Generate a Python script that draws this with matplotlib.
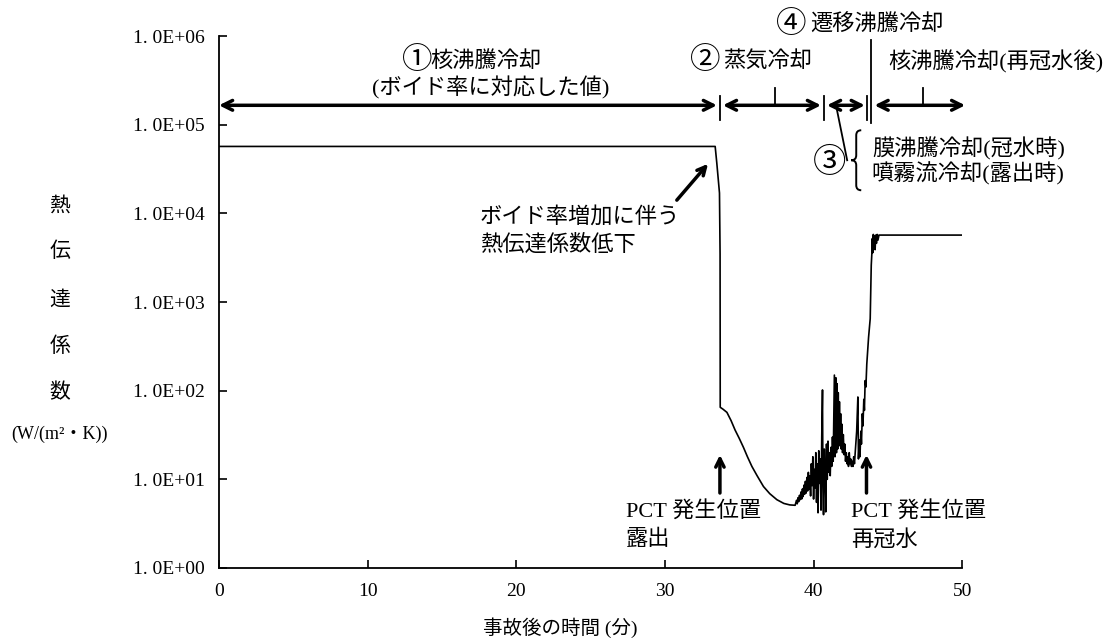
import matplotlib.pyplot as plt
from matplotlib.path import Path
from matplotlib.patches import PathPatch
from matplotlib.ticker import NullLocator
import matplotlib.transforms as mtransforms

plt.rcParams['font.family'] = ['Liberation Serif', 'Noto Sans CJK JP', 'DejaVu Sans']

# 事故後の時間 (分)
time_min = [0, 33.38, 33.49, 33.67, 33.71, 33.72, 33.9, 34.17, 34.45, 34.72, 35.0, 35.28, 35.55, 35.85,
            36.2, 36.63, 37.05, 37.53, 38.0, 38.4, 38.76,
            38.85, 38.9, 38.95, 39.0, 39.05, 39.1, 39.15, 39.2, 39.25, 39.3, 39.35, 39.4, 39.45, 39.5,
            39.55, 39.6, 39.65, 39.7, 39.75, 39.8, 39.85, 39.9, 39.95, 40.0, 40.05, 40.1, 40.15, 40.2,
            40.25, 40.3, 40.35, 40.4, 40.45, 40.5, 40.55, 40.6, 40.63, 40.67, 40.72, 40.78, 40.82, 40.87,
            40.92, 40.97, 41.02, 41.07, 41.12, 41.17, 41.22, 41.27, 41.32, 41.4, 41.44, 41.5, 41.54, 41.58,
            41.62, 41.66, 41.7, 41.74, 41.78, 41.82, 41.86, 41.9, 41.95, 42.0, 42.05, 42.1, 42.15, 42.2,
            42.25, 42.3, 42.35, 42.4, 42.45, 42.5, 42.55, 42.6, 42.65, 42.7, 42.75, 42.82, 42.9, 42.98,
            43.02, 43.08, 43.12, 43.18, 43.22, 43.28, 43.32, 43.38, 43.42, 43.47, 43.52, 43.58, 43.64, 43.7,
            43.76, 43.81, 43.85, 43.88, 43.92, 43.95, 43.98, 44.02, 44.06, 44.1, 44.14, 44.18, 44.23, 44.28,
            44.33, 44.4, 50]

# 熱伝達係数 (W/(m2・K))
htc = [5.7e4, 5.7e4, 3.7e4, 1.7e4, 3.5e3, 65, 62, 57, 46, 36, 29, 23, 18, 14,
       11, 8.3, 6.9, 5.9, 5.35, 5.15, 5.1,
       5.8, 5.3, 6.2, 5.6, 6.6, 5.9, 7.2, 6.0, 7.8, 6.4, 8.6, 6.8, 9.5, 7.0,
       10.5, 7.4, 12, 7.8, 11, 6.5, 15, 8.5, 18, 6.0, 13, 8.0, 20, 5.5,
       15, 4.2, 21, 9.0, 17, 4.5, 30, 102, 8, 4.0, 22, 12, 4.3, 25,
       10, 27, 12, 20, 11, 23, 14, 30, 16, 150, 18, 140, 20, 120,
       22, 95, 24, 75, 24, 55, 22, 42, 20, 32, 19, 25, 16, 20,
       15, 18, 14, 20, 15, 17, 14, 16, 14, 18, 15, 22, 35, 85,
       17, 28, 18, 35, 25, 55, 40, 80, 60, 130, 110, 200, 280, 400,
       520, 650, 1500, 2600, 3500, 5200, 3600, 5800, 4200, 5600, 3900, 5700, 4600, 5800,
       5000, 5700, 5700]

ytick_vals = [1e0, 1e1, 1e2, 1e3, 1e4, 1e5, 1e6]
ytick_labels = ['1. 0E+00', '1. 0E+01', '1. 0E+02', '1. 0E+03', '1. 0E+04', '1. 0E+05', '1. 0E+06']
xtick_vals = [0, 10, 20, 30, 40, 50]
ylabel_chars = ['熱', '伝', '達', '係', '数', '(W/(m²・K))']

fig = plt.figure(figsize=(11.06, 6.4), dpi=100)
ax = fig.add_axes([0.198, 0.1125, 0.672, 0.831])
ax.plot(time_min, htc, color='black', lw=1.2)
ax.set_yscale('log')
ax.set_xlim(0, 50)
ax.set_ylim(1, 1e6)
ax.set_yticks(ytick_vals)
ax.set_yticklabels(ytick_labels)
ax.yaxis.set_minor_locator(NullLocator())
ax.set_xticks(xtick_vals)
ax.tick_params(direction='in', length=6, width=1.2, labelsize=14)
ax.tick_params(axis='y', pad=10)
ax.tick_params(axis='x', pad=11)
for s in ['top', 'right']:
    ax.spines[s].set_visible(False)
for s in ['left', 'bottom']:
    ax.spines[s].set_linewidth(1.3)

# y label, stacked characters
ylabel_y = [207, 252, 301, 347, 393, 434]
for ch, py in zip(ylabel_chars, ylabel_y):
    fig.text(60 / 1106, 1 - py / 640, ch, ha='center', va='center',
             fontsize=13 if len(ch) > 1 else 15)
fig.text(560 / 1106, 1 - 628 / 640, '事故後の時間 (分)', ha='center', va='center', fontsize=14)

fs = 16
cfs = 22
# top phase annotations
arrow_y = 10 ** 5.22
dbl = dict(arrowstyle='<->,head_length=0.7,head_width=0.35', lw=2.5, color='black',
           shrinkA=0, shrinkB=0)
for a, b in [(0, 33.5), (33.9, 40.5), (40.9, 43.45), (44.1, 50.2)]:
    ax.annotate('', xy=(b, arrow_y), xytext=(a, arrow_y), arrowprops=dbl, annotation_clip=False)
for t in [33.7, 40.72, 43.6]:
    ax.plot([t, t], [10 ** 5.05, 10 ** 5.33], color='black', lw=1.3, clip_on=False)
ax.plot([43.85, 43.85], [10 ** 5.02, 10 ** 5.955], color='black', lw=1.3, clip_on=False)
for t in [37.4, 47.35]:
    ax.plot([t, t], [arrow_y, 10 ** 5.42], color='black', lw=1.3, clip_on=False)
ax.plot([41.57, 42.26], [10 ** 5.17, 10 ** 4.60], color='black', lw=1.3, clip_on=False)

ty = 10 ** 5.71
ax.text(13.35, ty, '①', ha='center', va='center', fontsize=cfs)
ax.text(14.2, ty, '核沸騰冷却', ha='left', va='center', fontsize=fs)
ax.text(18.3, 10 ** 5.42, '(ボイド率に対応した値)', ha='center', va='center', fontsize=fs)
ax.text(32.7, ty, '②', ha='center', va='center', fontsize=cfs)
ax.text(33.9, ty, '蒸気冷却', ha='left', va='center', fontsize=fs)
ax.text(38.5, 10 ** 6.12, '④', ha='center', va='center', fontsize=cfs)
ax.text(39.75, 10 ** 6.12, '遷移沸騰冷却', ha='left', va='center', fontsize=fs)
ax.text(45.0, ty, '核沸騰冷却(再冠水後)', ha='left', va='center', fontsize=fs)
ax.text(41.1, 10 ** 4.56, '③', ha='center', va='center', fontsize=cfs + 2)
ax.text(43.92, 10 ** 4.734, '膜沸騰冷却(冠水時)', ha='left', va='center', fontsize=fs)
ax.text(43.92, 10 ** 4.452, '噴霧流冷却(露出時)', ha='left', va='center', fontsize=fs)

# brace for ③
bx, by = ax.transData.transform((42.87, 10 ** 4.60))
w, h = 5, 30
verts = [(bx + w, by + h), (bx, by + h), (bx, by + h - w), (bx, by + w),
         (bx, by), (bx - w, by), (bx, by), (bx, by - w), (bx, by - h + w),
         (bx, by - h), (bx + w, by - h)]
codes = [Path.MOVETO, Path.CURVE3, Path.CURVE3, Path.LINETO, Path.CURVE3, Path.CURVE3,
         Path.CURVE3, Path.CURVE3, Path.LINETO, Path.CURVE3, Path.CURVE3]
fig.add_artist(PathPatch(Path(verts, codes), transform=mtransforms.IdentityTransform(),
                         fill=False, lw=1.4, color='black'))

# in-plot annotations
single = dict(arrowstyle='->,head_length=0.6,head_width=0.3', lw=2.5, color='black',
              shrinkA=0, shrinkB=0)
ax.text(17.56, 10 ** 3.963, 'ボイド率増加に伴う', ha='left', va='center', fontsize=fs)
ax.text(17.56, 10 ** 3.644, '熱伝達係数低下', ha='left', va='center', fontsize=fs)
ax.annotate('', xy=(32.9, 10 ** 4.56), xytext=(30.8, 10 ** 4.15), arrowprops=single)

for t_arrow, t_text, second in [(33.7, 27.4, '露出'), (43.56, 42.53, '再冠水')]:
    ax.annotate('', xy=(t_arrow, 10 ** 1.276), xytext=(t_arrow, 10 ** 0.846), arrowprops=single)
    ax.text(t_text, 10 ** 0.637, 'PCT 発生位置', ha='left', va='center', fontsize=fs)
    ax.text(t_text, 10 ** 0.318, second, ha='left', va='center', fontsize=fs)

fig.savefig('out.png', dpi=100)
